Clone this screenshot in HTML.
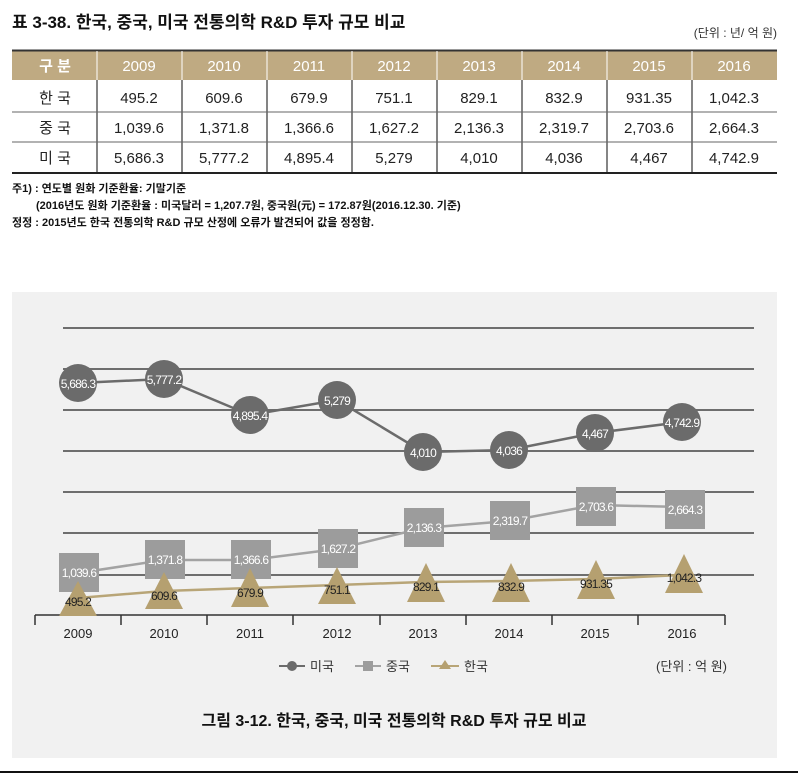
<!DOCTYPE html>
<html><head><meta charset="utf-8"><style>
body{margin:0;background:#fff;width:798px;height:774px;overflow:hidden}
svg{display:block}
text{font-family:"Liberation Sans","Noto Sans CJK KR",sans-serif}
</style></head><body>
<svg width="798" height="774" viewBox="0 0 798 774" xmlns="http://www.w3.org/2000/svg">
<text x="12" y="28" font-size="17" font-weight="bold" fill="#111">표 3-38. 한국, 중국, 미국 전통의학 R&amp;D 투자 규모 비교</text>
<text x="777" y="37" font-size="12" fill="#333" text-anchor="end">(단위 : 년/ 억 원)</text>
<rect x="12" y="50" width="765" height="30" fill="#bfaa82"/>
<line x1="12" y1="50.5" x2="777" y2="50.5" stroke="#333" stroke-width="2"/>
<g font-size="15" fill="#fff" text-anchor="middle">
<text x="55" y="71" font-weight="bold">구 분</text>
<text x="139" y="71">2009</text><text x="224" y="71">2010</text><text x="309" y="71">2011</text><text x="394" y="71">2012</text><text x="479" y="71">2013</text><text x="564" y="71">2014</text><text x="649" y="71">2015</text><text x="734" y="71">2016</text>
</g>
<g stroke="#fff" stroke-width="1"><line x1="97" y1="51" x2="97" y2="80"/><line x1="182" y1="51" x2="182" y2="80"/><line x1="267" y1="51" x2="267" y2="80"/><line x1="352" y1="51" x2="352" y2="80"/><line x1="437" y1="51" x2="437" y2="80"/><line x1="522" y1="51" x2="522" y2="80"/><line x1="607" y1="51" x2="607" y2="80"/><line x1="692" y1="51" x2="692" y2="80"/></g>
<g stroke="#333" stroke-width="1.2"><line x1="97" y1="80" x2="97" y2="173"/><line x1="182" y1="80" x2="182" y2="173"/><line x1="267" y1="80" x2="267" y2="173"/><line x1="352" y1="80" x2="352" y2="173"/><line x1="437" y1="80" x2="437" y2="173"/><line x1="522" y1="80" x2="522" y2="173"/><line x1="607" y1="80" x2="607" y2="173"/><line x1="692" y1="80" x2="692" y2="173"/></g>
<g stroke="#666" stroke-width="1"><line x1="12" y1="112" x2="777" y2="112"/><line x1="12" y1="142" x2="777" y2="142"/></g>
<line x1="12" y1="173" x2="777" y2="173" stroke="#222" stroke-width="2"/>
<g font-size="15" fill="#222" text-anchor="middle">
<text x="55" y="103">한 국</text><text x="55" y="133">중 국</text><text x="55" y="163">미 국</text>
<text x="139" y="103">495.2</text><text x="224" y="103">609.6</text><text x="309" y="103">679.9</text><text x="394" y="103">751.1</text><text x="479" y="103">829.1</text><text x="564" y="103">832.9</text><text x="649" y="103">931.35</text><text x="734" y="103">1,042.3</text>
<text x="139" y="133">1,039.6</text><text x="224" y="133">1,371.8</text><text x="309" y="133">1,366.6</text><text x="394" y="133">1,627.2</text><text x="479" y="133">2,136.3</text><text x="564" y="133">2,319.7</text><text x="649" y="133">2,703.6</text><text x="734" y="133">2,664.3</text>
<text x="139" y="163">5,686.3</text><text x="224" y="163">5,777.2</text><text x="309" y="163">4,895.4</text><text x="394" y="163">5,279</text><text x="479" y="163">4,010</text><text x="564" y="163">4,036</text><text x="649" y="163">4,467</text><text x="734" y="163">4,742.9</text>
</g>
<g font-size="11" fill="#111" font-weight="bold">
<text x="12" y="192">주1) : 연도별 원화 기준환율: 기말기준</text>
<text x="36" y="209">(2016년도 원화 기준환율 : 미국달러 = 1,207.7원, 중국원(元) = 172.87원(2016.12.30. 기준)</text>
<text x="12" y="226">정정 : 2015년도 한국 전통의학 R&amp;D 규모 산정에 오류가 발견되어 값을 정정함.</text>
</g>
<rect x="12" y="292" width="765" height="466" fill="#f1f1f1"/>
<g stroke="#6e6e6e" stroke-width="2"><line x1="63" y1="328" x2="754" y2="328"/><line x1="63" y1="369" x2="754" y2="369"/><line x1="63" y1="410" x2="754" y2="410"/><line x1="63" y1="451" x2="754" y2="451"/><line x1="63" y1="492" x2="754" y2="492"/><line x1="63" y1="533" x2="754" y2="533"/><line x1="63" y1="575" x2="754" y2="575"/></g>
<g stroke="#333" stroke-width="1.5"><line x1="35" y1="615" x2="725" y2="615"/>
<line x1="35" y1="615" x2="35" y2="625"/><line x1="121" y1="615" x2="121" y2="625"/><line x1="207" y1="615" x2="207" y2="625"/><line x1="293" y1="615" x2="293" y2="625"/><line x1="380" y1="615" x2="380" y2="625"/><line x1="466" y1="615" x2="466" y2="625"/><line x1="552" y1="615" x2="552" y2="625"/><line x1="638" y1="615" x2="638" y2="625"/><line x1="725" y1="615" x2="725" y2="625"/></g>
<g font-size="13" fill="#222" text-anchor="middle"><text x="78" y="638">2009</text><text x="164" y="638">2010</text><text x="250" y="638">2011</text><text x="337" y="638">2012</text><text x="423" y="638">2013</text><text x="509" y="638">2014</text><text x="595" y="638">2015</text><text x="682" y="638">2016</text></g>
<!-- US -->
<polyline fill="none" stroke="#6b6b6b" stroke-width="2.5" points="78,383 164,379 250,415 337,400 423,452 509,450 595,433 682,422"/>
<g fill="#6b6b6b"><circle cx="78" cy="383" r="19"/><circle cx="164" cy="379" r="19"/><circle cx="250" cy="415" r="19"/><circle cx="337" cy="400" r="19"/><circle cx="423" cy="452" r="19"/><circle cx="509" cy="450" r="19"/><circle cx="595" cy="433" r="19"/><circle cx="682" cy="422" r="19"/></g>
<g font-size="12" fill="#fff" text-anchor="middle" letter-spacing="-0.8"><text x="78" y="388">5,686.3</text><text x="164" y="384">5,777.2</text><text x="250" y="420">4,895.4</text><text x="337" y="405">5,279</text><text x="423" y="457">4,010</text><text x="509" y="455">4,036</text><text x="595" y="438">4,467</text><text x="682" y="427">4,742.9</text></g>
<!-- China -->
<polyline fill="none" stroke="#a3a3a3" stroke-width="2.5" points="78,573 164,560 250,560 337,549 423,528 509,521 595,505 682,507"/>
<g fill="#9c9c9c"><rect x="59" y="553" width="40" height="39"/><rect x="145" y="540" width="40" height="39"/><rect x="231" y="540" width="40" height="39"/><rect x="318" y="529" width="40" height="39"/><rect x="404" y="508" width="40" height="39"/><rect x="490" y="501" width="40" height="39"/><rect x="576" y="487" width="40" height="39"/><rect x="665" y="490" width="40" height="39"/></g>
<g font-size="12" fill="#fff" text-anchor="middle" letter-spacing="-0.8"><text x="79" y="577">1,039.6</text><text x="165" y="564">1,371.8</text><text x="251" y="564">1,366.6</text><text x="338" y="553">1,627.2</text><text x="424" y="532">2,136.3</text><text x="510" y="525">2,319.7</text><text x="596" y="511">2,703.6</text><text x="685" y="514">2,664.3</text></g>
<!-- Korea -->
<polyline fill="none" stroke="#b8a577" stroke-width="2.5" points="78,598 164,591 250,588 337,585 423,582 509,581 595,579 682,575"/>
<g fill="#b5a070"><polygon points="78,581 59,616 97,616"/><polygon points="164,572 145,609 183,609"/><polygon points="250,568 231,607 269,607"/><polygon points="337,567 318,604 356,604"/><polygon points="426,563 407,602 445,602"/><polygon points="511,563 492,602 530,602"/><polygon points="596,560 577,599 615,599"/><polygon points="684,554 665,593 703,593"/></g>
<g font-size="12" fill="#222" text-anchor="middle" letter-spacing="-0.8"><text x="78" y="606">495.2</text><text x="164" y="600">609.6</text><text x="250" y="597">679.9</text><text x="337" y="594">751.1</text><text x="426" y="591">829.1</text><text x="511" y="591">832.9</text><text x="596" y="588">931.35</text><text x="684" y="582">1,042.3</text></g>
<!-- legend -->
<line x1="279" y1="666" x2="305" y2="666" stroke="#6b6b6b" stroke-width="2"/><circle cx="292" cy="666" r="5" fill="#6b6b6b"/>
<text x="310" y="671" font-size="13" fill="#333">미국</text>
<line x1="355" y1="666" x2="381" y2="666" stroke="#a3a3a3" stroke-width="2"/><rect x="363" y="661" width="10" height="10" fill="#9c9c9c"/>
<text x="386" y="671" font-size="13" fill="#333">중국</text>
<line x1="431" y1="666" x2="459" y2="666" stroke="#b8a577" stroke-width="2"/><polygon points="445,660 439,669 451,669" fill="#b5a070"/>
<text x="464" y="671" font-size="13" fill="#333">한국</text>
<text x="727" y="671" font-size="13" fill="#333" text-anchor="end">(단위 : 억 원)</text>
<text x="394" y="726" font-size="16" font-weight="bold" fill="#111" text-anchor="middle">그림 3-12. 한국, 중국, 미국 전통의학 R&amp;D 투자 규모 비교</text>
<line x1="0" y1="772" x2="798" y2="772" stroke="#111" stroke-width="2"/>
</svg>
</body></html>
